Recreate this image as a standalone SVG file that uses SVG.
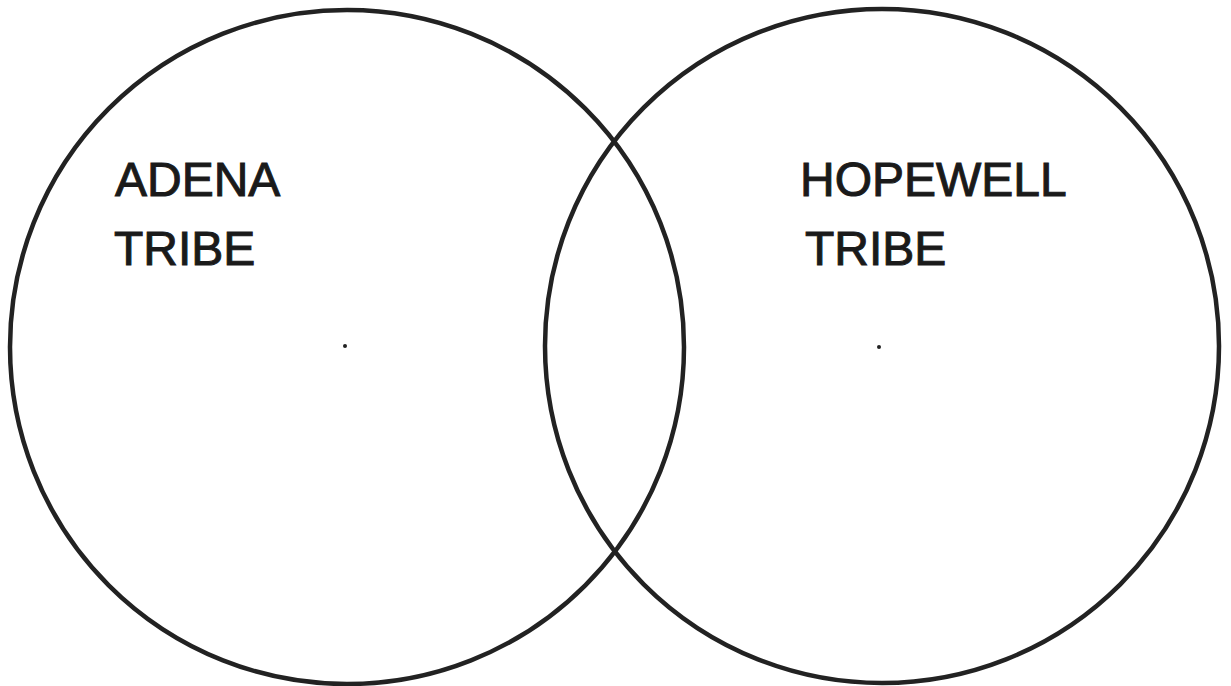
<svg xmlns="http://www.w3.org/2000/svg" width="1231" height="686" viewBox="0 0 1231 686">
<style>
.ring{fill:none;stroke:#222;stroke-width:4.5}
.lbl{font-family:"Liberation Sans",Arial,sans-serif;font-size:48px;fill:#1a1a1a;stroke:#1a1a1a;stroke-width:1}
.dot{fill:#222}
</style>
<rect width="1231" height="686" fill="#fff"/>
<g id="adena">
<circle class="ring" cx="347" cy="347" r="337"/>
<text class="lbl" x="115" y="196">ADENA</text>
<text class="lbl" x="114" y="265">TRIBE</text>
<circle class="dot" cx="345" cy="346" r="2"/>
</g>
<g id="hopewell">
<circle class="ring" cx="882" cy="346" r="337"/>
<text class="lbl" x="800" y="196">HOPEWELL</text>
<text class="lbl" x="805" y="265">TRIBE</text>
<circle class="dot" cx="879" cy="347" r="2"/>
</g>
<g id="connectors"></g>
</svg>
